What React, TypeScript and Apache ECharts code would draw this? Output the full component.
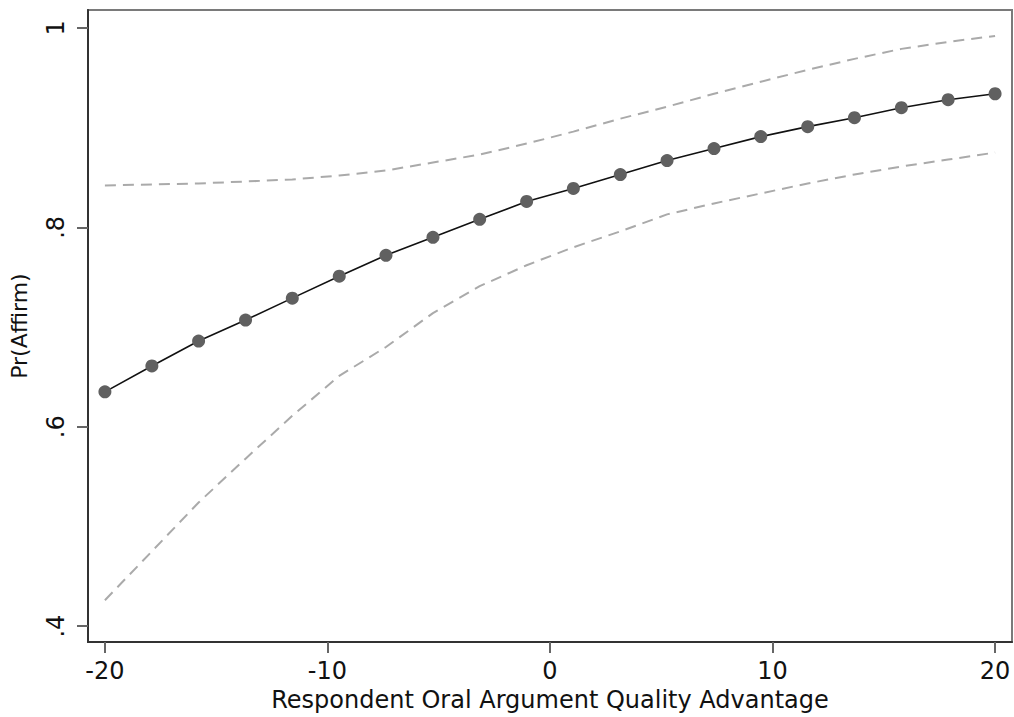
import React, { useEffect, useRef } from "react";
import * as echarts from "echarts";

const xValues = [-20, -17.89, -15.79, -13.68, -11.58, -9.47, -7.37, -5.26, -3.16, -1.05, 1.05, 3.16, 5.26, 7.37, 9.47, 11.58, 13.68, 15.79, 17.89, 20];
const predicted = [0.635, 0.661, 0.686, 0.707, 0.729, 0.751, 0.772, 0.79, 0.808, 0.826, 0.839, 0.853, 0.867, 0.879, 0.891, 0.901, 0.91, 0.92, 0.928, 0.934];
const upperCI = [0.842, 0.843, 0.844, 0.846, 0.848, 0.852, 0.857, 0.865, 0.873, 0.884, 0.896, 0.909, 0.921, 0.934, 0.946, 0.958, 0.969, 0.979, 0.986, 0.992];
const lowerCI = [0.426, 0.475, 0.524, 0.568, 0.611, 0.651, 0.68, 0.714, 0.741, 0.762, 0.78, 0.796, 0.813, 0.824, 0.834, 0.844, 0.853, 0.861, 0.868, 0.875];
const xTicks = [-20, -10, 0, 10, 20];
const yTicks = [0.4, 0.6, 0.8, 1];
const xTitle = "Respondent Oral Argument Quality Advantage";
const yTitle = "Pr(Affirm)";

const FONT = "DejaVu Sans";

export default function App() {
  const ref = useRef<HTMLDivElement>(null);
  useEffect(() => {
    if (!ref.current) return;
    const chart = echarts.init(ref.current, null, { renderer: "svg" });
    const pair = (ys: number[]) => xValues.map((x, i) => [x, ys[i]]);
    chart.setOption({
      animation: false,
      backgroundColor: "#ffffff",
      grid: {
        left: 88,
        top: 10,
        right: 2,
        bottom: 71,
        show: true,
        borderColor: "#7a7a7a",
        borderWidth: 2,
        backgroundColor: "#ffffff",
      },
      xAxis: {
        type: "value",
        min: -20.76,
        max: 20.76,
        name: xTitle,
        nameLocation: "middle",
        nameGap: 40,
        nameTextStyle: { fontFamily: FONT, fontSize: 24, color: "#111" },
        axisLine: { show: true, onZero: false, lineStyle: { color: "#333", width: 2 } },
        axisTick: { show: true, length: 11, customValues: xTicks, lineStyle: { color: "#666", width: 2 } },
        axisLabel: {
          customValues: xTicks,
          margin: 17,
          fontFamily: FONT,
          fontSize: 24,
          color: "#111",
          formatter: (v: number) => String(v),
        },
        splitLine: { show: false },
      },
      yAxis: {
        type: "value",
        min: 0.384,
        max: 1.018,
        name: yTitle,
        nameLocation: "middle",
        nameGap: 58,
        nameRotate: 90,
        nameTextStyle: { fontFamily: FONT, fontSize: 22, color: "#111" },
        axisLine: { show: true, onZero: false, lineStyle: { color: "#333", width: 2 } },
        axisTick: { show: true, length: 11, customValues: yTicks, lineStyle: { color: "#666", width: 2 } },
        axisLabel: {
          customValues: yTicks,
          rotate: 90,
          margin: 20,
          fontFamily: FONT,
          fontSize: 24,
          color: "#111",
          formatter: (v: number) => (Math.abs(v - 1) < 1e-9 ? "1" : String(Math.round(v * 10) / 10).replace(/^0/, "")),
        },
        splitLine: { show: false },
      },
      series: [
        {
          type: "line",
          data: pair(upperCI),
          symbol: "none",
          lineStyle: { color: "#aaaaaa", width: 2, type: [11, 7] },
          z: 2,
        },
        {
          type: "line",
          data: pair(lowerCI),
          symbol: "none",
          lineStyle: { color: "#aaaaaa", width: 2, type: [11, 7] },
          z: 2,
        },
        {
          type: "line",
          data: pair(predicted),
          symbol: "circle",
          symbolSize: 13,
          itemStyle: { color: "#606060" },
          lineStyle: { color: "#111", width: 1.6 },
          z: 3,
        },
      ],
    });
    return () => chart.dispose();
  }, []);
  return <div ref={ref} style={{ position: "absolute", left: 0, top: 0, width: 1014, height: 717 }} />;
}
